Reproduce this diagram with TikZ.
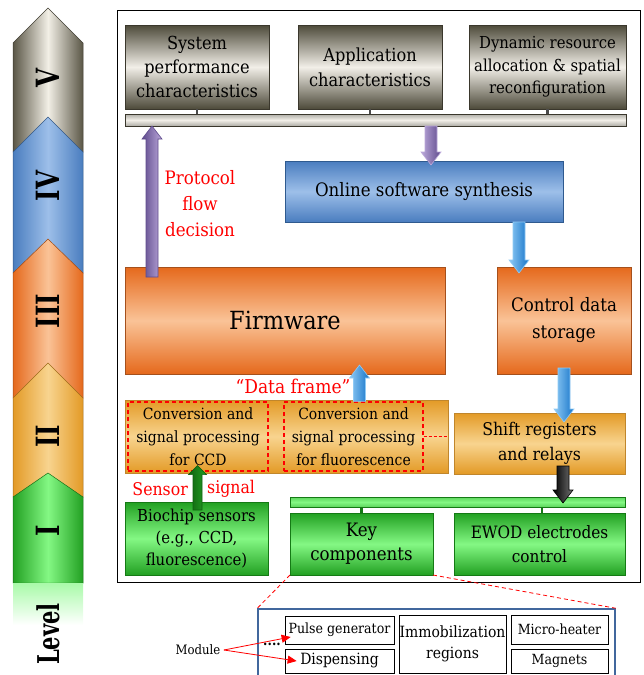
\documentclass[tikz,border=0pt]{standalone}
\usepackage{fontspec}
\setmainfont{DejaVu Serif Condensed}
\usepackage{xcolor}
\usepackage{tikz}
\usetikzlibrary{arrows.meta, calc, positioning}
\definecolor{lvVd}{HTML}{5a5646}
\definecolor{lvVl}{HTML}{f2efe6}
\definecolor{lvIVd}{HTML}{4a7dbf}
\definecolor{lvIVl}{HTML}{9dbfe9}
\definecolor{lvIIId}{HTML}{e5691c}
\definecolor{lvIIIl}{HTML}{fac397}
\definecolor{lvIId}{HTML}{e39a26}
\definecolor{lvIIl}{HTML}{f8d48f}
\definecolor{lvId}{HTML}{22a022}
\definecolor{lvIl}{HTML}{84f884}
\definecolor{topDark}{HTML}{4d4a3a}
\definecolor{topLight}{HTML}{f2efe8}
\definecolor{topEdge}{HTML}{3a372c}
\definecolor{blueEdge}{HTML}{2f5a8f}
\definecolor{orangeEdge}{HTML}{a5501c}
\definecolor{amberEdge}{HTML}{c0862c}
\definecolor{greenEdge}{HTML}{157a15}
\definecolor{stubgray}{HTML}{4a4a4a}
\definecolor{purpDark}{HTML}{5e4a8c}
\definecolor{purpLight}{HTML}{bba8da}
\definecolor{skyLight}{HTML}{8fcaf5}
\definecolor{skyDark}{HTML}{1473c8}
\definecolor{detblue}{HTML}{41679d}
\definecolor{sigred}{HTML}{ff0000}

\begin{document}
\begin{tikzpicture}[x=1pt, y=-1pt,
    every node/.style={font=\rmfamily},
    blk/.style={
        rectangle, inner sep=1pt, outer sep=0pt,
        align=center, line width=0.8pt,
    },
    grad/.style n args={3}{
        blk, top color=#1, bottom color=#1, middle color=#2, draw=#3,
    },
    topbox/.style={grad={topDark}{topLight}{topEdge}},
    orangebox/.style={grad={lvIIId}{lvIIIl}{orangeEdge}},
    amberbox/.style={grad={lvIId}{lvIIl}{amberEdge}},
    greenbox/.style={grad={lvId}{lvIl}{greenEdge}},
    redtext/.style={text=sigred, align=center},
    dashbox/.style={
        rectangle, draw=sigred, line width=1.2pt,
        dash pattern=on 4pt off 3pt, align=center, inner sep=0pt,
    },
    stub/.style={line width=2.2pt, draw=stubgray},
    gstub/.style={line width=2.2pt, draw=greenEdge},
    partbox/.style={
        rectangle, draw=black, line width=0.7pt, fill=white,
        inner sep=0pt, align=center,
        font=\fontsize{14}{17}\selectfont,
    },
]
\useasboundingbox (0,0) rectangle (643,675);

% ── Block arrow: dark/light shading, from #3 to tip #4 ───────────────
\def\shaftw{6}
\def\headw{10}
\def\headl{13}
\def\blockarrow#1#2#3#4{%
    \coordinate (ba-s) at (#3);
    \coordinate (ba-t) at (#4);
    \coordinate (ba-h) at ($(ba-t)!\headl pt!(ba-s)$);
    \path[left color=#1, right color=#2, draw=#1, line width=0.6pt]
        ([xshift=-\shaftw pt]ba-s) -- ([xshift=-\shaftw pt]ba-h)
        -- ([xshift=-\headw pt]ba-h) -- (ba-t) -- ([xshift=\headw pt]ba-h)
        -- ([xshift=\shaftw pt]ba-h) -- ([xshift=\shaftw pt]ba-s) -- cycle;
}

% ── Level column ──────────────────────────────────────────────────────
\foreach \tip/\sh/\bot/\lv/\ly in {8/43/152/V/78, 117/152/273/IV/186,
        239/273/398/III/311, 363/398/497/II/436, 473/497/583/I/531} {
    \path[left color=lv\lv d, right color=lv\lv d, middle color=lv\lv l,
          draw=lv\lv d!70!black, line width=0.5pt]
        (13,\sh) -- (48,\tip) -- (83,\sh) -- (83,\bot) -- (13,\bot) -- cycle;
    \node[rotate=90, font=\fontsize{32}{32}\selectfont\bfseries]
        (lv\lv) at (48,\ly) {\scalebox{0.85}[1]{\lv}};
}
\fill[top color=lvIl!70, bottom color=white] (13,583) rectangle (83,625);
\node[rotate=90, font=\fontsize{30}{30}\selectfont\bfseries] (level) at (48,634)
    {\scalebox{0.78}[1]{Level}};

% ── Frame ─────────────────────────────────────────────────────────────
\node[draw, fill=white, line width=1pt, minimum width=523pt, minimum height=572pt,
      inner sep=0pt] (frame) at (378.5,296) {};

% ── Level V: top boxes and bus ────────────────────────────────────────
\node[topbox, minimum width=144pt, minimum height=84pt,
      font=\fontsize{18}{24}\selectfont] (sysperf) at (197,67)
    {System\\performance\\characteristics};
\node[topbox, minimum width=144pt, minimum height=84pt,
      font=\fontsize{18}{25}\selectfont] (appchar) at (370,67)
    {Application\\characteristics};
\node[topbox, minimum width=157pt, minimum height=84pt,
      font=\fontsize{16.5}{22.5}\selectfont] (dynres) at (547.5,67)
    {Dynamic resource\\allocation \& spatial\\reconfiguration};
\node[blk, grad={topDark!45}{topLight}{topEdge}, minimum width=501pt,
      minimum height=12pt] (bar) at (375.5,120) {};
\draw[stub] (sysperf.south) -- (sysperf.south |- bar.north);
\draw[stub] (appchar.south) -- (appchar.south |- bar.north);
\draw[stub] (dynres.south) -- (dynres.south |- bar.north);

% ── Level IV ──────────────────────────────────────────────────────────
\node[grad={lvIVd}{lvIVl}{blueEdge}, minimum width=278pt, minimum height=61pt,
      font=\fontsize{18.5}{22}\selectfont] (online) at (424,191.5)
    {Online software synthesis};
\node[redtext, font=\fontsize{18.5}{26}\selectfont] (protocol) at (200,204)
    {Protocol\\flow\\decision};

% ── Level III ─────────────────────────────────────────────────────────
\node[orangebox, minimum width=320pt, minimum height=107pt,
      font=\fontsize{25}{28}\selectfont] (firm) at (285,320.5) {Firmware};
\node[orangebox, minimum width=134pt, minimum height=107pt,
      font=\fontsize{18.5}{27}\selectfont] (ctrl) at (564,320.5)
    {Control data\\storage};

% ── Level II ──────────────────────────────────────────────────────────
\node[amberbox, minimum width=323pt, minimum height=73pt] (conv) at (286.5,436.5) {};
\node[dashbox, minimum width=140pt, minimum height=69pt,
      font=\fontsize{15.5}{23}\selectfont] (dashA) at (198,436.5)
    {Conversion and\\signal processing\\for CCD};
\node[dashbox, minimum width=139pt, minimum height=69pt,
      font=\fontsize{15.5}{23}\selectfont] (dashB) at (353.5,436.5)
    {Conversion and\\signal processing\\for fluorescence};
\draw[draw=sigred, line width=0.8pt, dash pattern=on 3pt off 2pt] (dashB.east) -- (conv.east);
\node[amberbox, minimum width=171pt, minimum height=61pt,
      font=\fontsize{17.5}{25}\selectfont] (shift) at (539.5,443.5)
    {Shift registers\\and relays};
\node[redtext, font=\fontsize{19}{22}\selectfont] (dframe) at (293,386) {“Data frame”};

% ── Level I ───────────────────────────────────────────────────────────
\node[blk, grad={lvIl!60!lvId}{lvIl}{greenEdge}, minimum width=335pt,
      minimum height=10pt] (gbar) at (457.5,502) {};
\node[greenbox, minimum width=143pt, minimum height=62pt,
      font=\fontsize{18.5}{24}\selectfont] (key) at (361.5,544)
    {Key\\components};
\node[greenbox, minimum width=171pt, minimum height=62pt,
      font=\fontsize{17}{24}\selectfont] (ewod) at (539.5,544)
    {EWOD electrodes\\control};
\node[greenbox, minimum width=143pt, minimum height=73pt,
      font=\fontsize{16.5}{22}\selectfont] (bio) at (196.5,538.5)
    {Biochip sensors\\(e.g., CCD,\\fluorescence)};
\draw[gstub] (key.north) -- (key.north |- gbar.south);
\draw[gstub] ([xshift=2.5pt]ewod.north) -- ([xshift=2.5pt]ewod.north |- gbar.south);
\node[redtext, font=\fontsize{17.5}{20}\selectfont, anchor=east, inner xsep=0pt]
    (sensor) at (188,489) {Sensor};
\node[redtext, font=\fontsize{17.5}{20}\selectfont, anchor=west, inner xsep=0pt]
    (signal) at (207,489) {signal};

% ── Arrows ────────────────────────────────────────────────────────────
\coordinate (pu0) at ([xshift=27pt, yshift=-10pt]firm.north west);
\blockarrow{purpDark}{purpLight}{pu0}{pu0 |- bar.south}
\coordinate (pd1) at ([xshift=7pt, yshift=-4pt]online.north);
\blockarrow{purpLight}{purpDark}{pd1 |- bar.south}{pd1}
\coordinate (bo1) at ([xshift=-45pt, yshift=-6pt]ctrl.north);
\blockarrow{skyLight}{skyDark}{bo1 |- online.south}{bo1}
\coordinate (df0) at ([xshift=6pt]dashB.north);
\coordinate (df1) at (df0 |- firm.south);
\blockarrow{skyLight}{skyDark}{df0}{[yshift=9pt]df1}
\coordinate (cs0) at ([yshift=6pt]ctrl.south);
\coordinate (cs1) at (cs0 |- shift.north);
\blockarrow{skyLight}{skyDark}{cs0}{[yshift=-9pt]cs1}
\coordinate (sk0) at ([xshift=-1pt, yshift=8pt]ctrl.south |- shift.south);
\coordinate (sk1) at (sk0 |- gbar.north);
\blockarrow{black}{black!55}{sk0}{[yshift=-6pt]sk1}
\def\shaftw{4.5}
\def\headw{9}
\def\headl{9}
\coordinate (gs0) at ([xshift=1pt, yshift=-8pt]bio.north);
\coordinate (gs1) at (gs0 |- dashA.south);
\blockarrow{greenEdge!80!black}{lvId}{gs0}{[yshift=6pt]gs1}

% ── Key components detail ─────────────────────────────────────────────
\node[draw=detblue, fill=white, line width=1.5pt, minimum width=357pt,
      minimum height=91pt, inner sep=0pt] (detail) at (436.5,654.5) {};
\draw[draw=sigred, line width=0.8pt, dash pattern=on 4pt off 3pt]
    (key.south west) -- (detail.north west);
\draw[draw=sigred, line width=0.8pt, dash pattern=on 4pt off 3pt]
    (key.south east) -- (detail.north east);
\node[partbox, minimum width=109pt, minimum height=28pt] (pulse) at (339.5,630) {Pulse generator};
\node[partbox, minimum width=109pt, minimum height=24pt,
      font=\fontsize{15.5}{17}\selectfont] (disp) at (339.5,661) {Dispensing};
\node[partbox, minimum width=107pt, minimum height=58pt,
      font=\fontsize{15.5}{21}\selectfont] (immob) at (452.5,644)
    {Immobilization\\regions};
\node[partbox, minimum width=97pt, minimum height=29pt] (heater) at (559.5,629.5) {Micro-heater};
\node[partbox, minimum width=97pt, minimum height=24pt] (magnets) at (559.5,661) {Magnets};
\node[font=\fontsize{14}{14}\selectfont\bfseries] (dots) at (272,644) {....};
\node[font=\fontsize{13}{13}\selectfont] (module) at (198,650) {Module};
\draw[draw=sigred, line width=0.8pt, -{Triangle[length=9pt, width=8pt]}]
    (module.east) -- ([shift={(6,7)}]pulse.west);
\draw[draw=sigred, line width=0.8pt, -{Triangle[length=9pt, width=8pt]}]
    (module.east) -- ([xshift=12pt]disp.west);

\end{tikzpicture}
\end{document}
